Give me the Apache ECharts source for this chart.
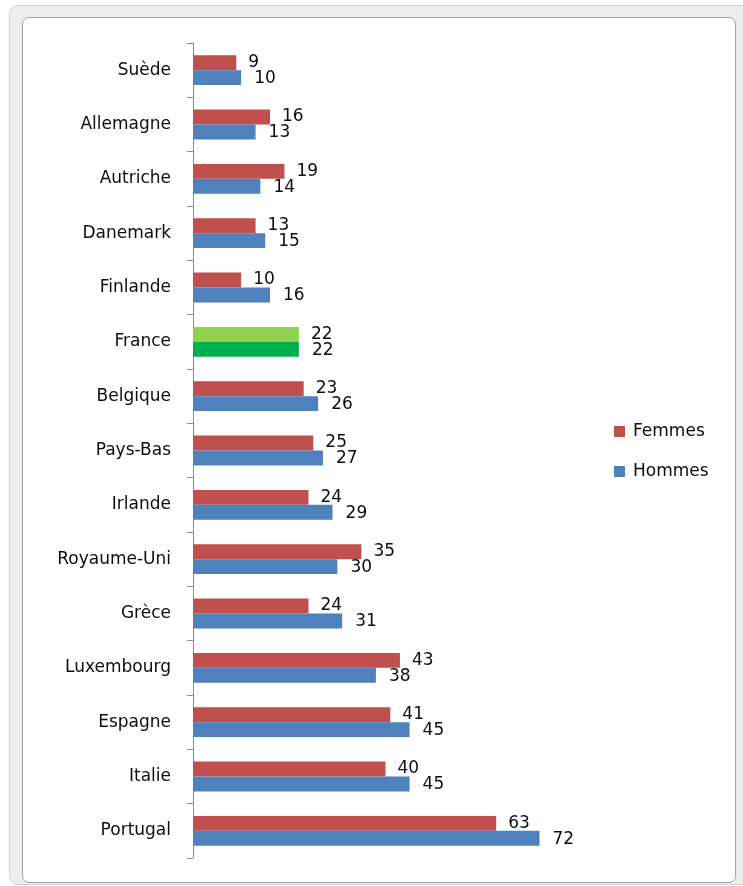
<!DOCTYPE html>
<html>
<head>
<meta charset="utf-8">
<script src="https://cdn.jsdelivr.net/npm/echarts@6/dist/echarts.min.js"></script>
<style>
  body { margin: 0; background: #fff; }
  #frame { position: absolute; left: 9px; top: 5px; width: 745px; height: 878px;
           background: #ededed; border: 1px solid #d2d2d2; border-radius: 9px; }
  #panel { position: absolute; left: 22px; top: 17px; width: 712px; height: 864px;
           background: #fff; border: 1px solid #a5a5a5; border-radius: 7px; }
  #main { position: absolute; left: 0; top: 0; width: 743px; height: 886px; }
</style>
</head>
<body>
<div id="frame"></div>
<div id="panel"></div>
<div id="main"></div>
<script>
// pays, du haut vers le bas
var pays = ['Suède', 'Allemagne', 'Autriche', 'Danemark', 'Finlande', 'France', 'Belgique',
            'Pays-Bas', 'Irlande', 'Royaume-Uni', 'Grèce', 'Luxembourg', 'Espagne', 'Italie', 'Portugal'];
var femmes = [9, 16, 19, 13, 10, 22, 23, 25, 24, 35, 24, 43, 41, 40, 63];
var hommes = [10, 13, 14, 15, 16, 22, 26, 27, 29, 30, 31, 38, 45, 45, 72];

var rouge = '#c0504d', bleu = '#4f81bd';
var vertClair = '#92d050', vertFonce = '#00b050';
var police = 'DejaVu Sans';
var texte = '#0d0d0d';

function avecFrance(vals, couleur) {
  return vals.map(function (v, i) {
    if (pays[i] === 'France') return { value: v, itemStyle: { color: couleur } };
    return v;
  });
}

var myChart = echarts.init(document.getElementById('main'));
var option = {
  animation: false,
  grid: { left: 193, top: 43, right: 165, bottom: 28 },
  legend: {
    orient: 'vertical',
    left: 614, top: 423,
    padding: 0,
    itemWidth: 11, itemHeight: 11, itemGap: 23,
    icon: 'rect',
    textStyle: { fontFamily: police, fontSize: 17, color: texte, padding: [0, 0, 0, 3] },
    data: ['Femmes', 'Hommes']
  },
  xAxis: { type: 'value', min: 0, max: 80, show: false },
  yAxis: {
    type: 'category',
    inverse: true,
    data: pays,
    axisLine: { show: true, lineStyle: { color: '#8c8c8c', width: 1 } },
    axisTick: { show: true, length: 6, lineStyle: { color: '#8c8c8c', width: 1 } },
    axisLabel: { margin: 22, fontFamily: police, fontSize: 17, color: texte }
  },
  series: [
    {
      name: 'Femmes', type: 'bar',
      data: avecFrance(femmes, vertClair),
      itemStyle: { color: rouge },
      barGap: '0%', barCategoryGap: '45%',
      label: { show: true, position: 'right', distance: 12, offset: [0, 0],
               fontFamily: police, fontSize: 17, color: texte }
    },
    {
      name: 'Hommes', type: 'bar',
      data: avecFrance(hommes, vertFonce),
      itemStyle: { color: bleu },
      barGap: '0%', barCategoryGap: '45%',
      label: { show: true, position: 'right', distance: 13, offset: [0, 1],
               fontFamily: police, fontSize: 17, color: texte }
    }
  ]
};
myChart.setOption(option);
</script>
</body>
</html>
